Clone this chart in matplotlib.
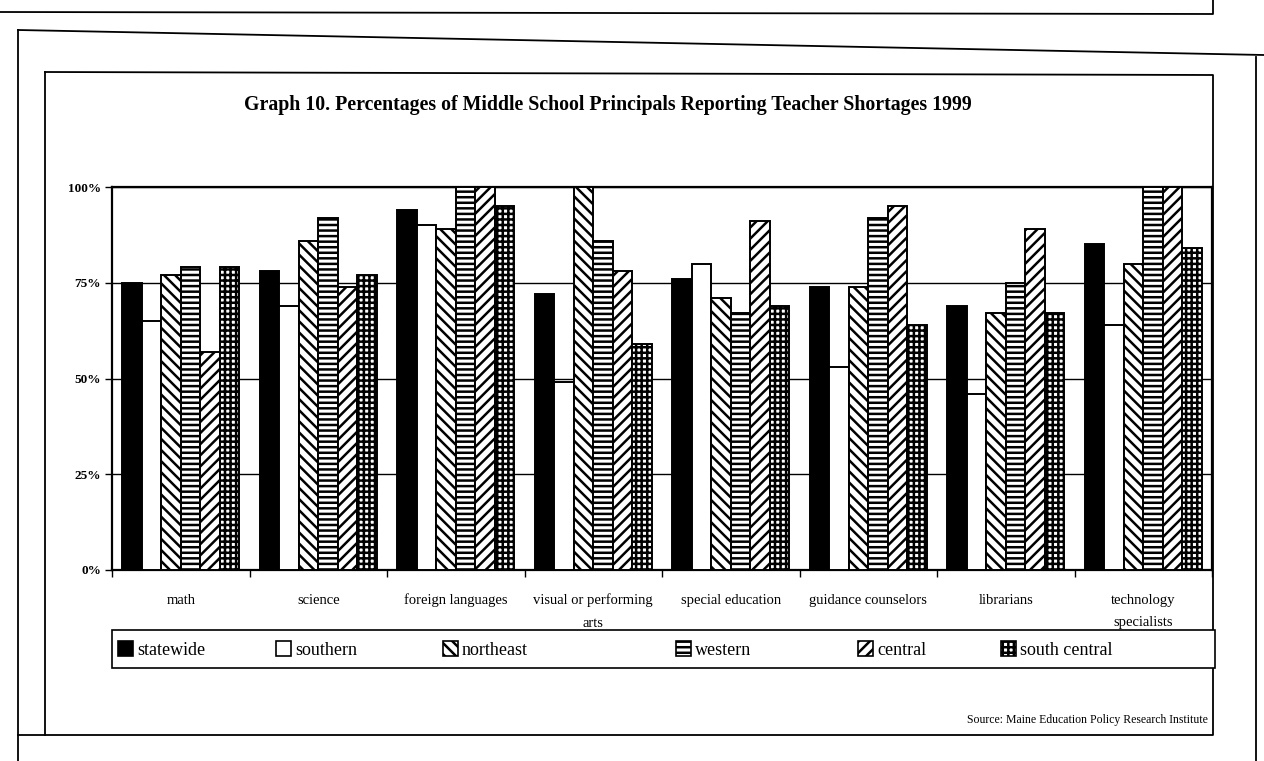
import numpy as np
import matplotlib
matplotlib.use("Agg")
import matplotlib.pyplot as plt
from matplotlib.lines import Line2D
from matplotlib.patches import Patch, Rectangle
from matplotlib.ticker import FixedLocator, PercentFormatter

# values (percent)
categories = ["math", "science", "foreign languages", "visual or performing\narts",
              "special education", "guidance counselors", "librarians",
              "technology\nspecialists"]
regions = ["statewide", "southern", "northeast", "western", "central", "south central"]
statewide = [75, 78, 94, 72, 76, 74, 69, 85]
southern = [65, 69, 90, 49, 80, 53, 46, 64]
northeast = [77, 86, 89, 100, 71, 74, 67, 80]
western = [79, 92, 100, 86, 67, 92, 75, 100]
central = [57, 74, 100, 78, 91, 95, 89, 100]
south_central = [79, 77, 95, 59, 69, 64, 67, 84]
yticks = [0, 25, 50, 75, 100]

series = [statewide, southern, northeast, western, central, south_central]
faces = ["black", "white", "white", "white", "white", "white"]
hatches = [None, None, "\\\\\\", "---", "///", "+++"]

plt.rcParams['font.family'] = ['Liberation Serif', 'DejaVu Serif']
plt.rcParams['hatch.linewidth'] = 1.8
plt.rcParams['hatch.color'] = 'black'

W, H = 1264, 761
fig = plt.figure(figsize=(W / 100, H / 100), dpi=100)


def fx(x):
    return x / W


def fy(y):
    return 1 - y / H


ax = fig.add_axes([fx(112), fy(570), fx(1212) - fx(112), fy(187) - fy(570)])

x = np.arange(len(categories))
bw = 0.142
for i, vals in enumerate(series):
    ax.bar(x + (i - 2.5) * bw, vals, bw, color=faces[i], edgecolor="black",
           linewidth=1.4, hatch=hatches[i], zorder=3)

ax.set_xlim(-0.5, len(categories) - 0.5)
ax.set_ylim(0, 100)
ax.set_yticks(yticks)
ax.yaxis.set_major_formatter(PercentFormatter(decimals=0))
ax.yaxis.grid(True, color="black", linewidth=1.0, zorder=0)
ax.set_axisbelow(True)
for lbl in ax.get_yticklabels():
    lbl.set_fontweight("bold")
ax.tick_params(axis="y", labelsize=9.5, length=5, width=1, direction="out", pad=3)

ax.set_xticks(x)
ax.set_xticklabels(categories, fontsize=10.5, linespacing=1.95)
ax.tick_params(axis="x", which="major", length=0, pad=17)
ax.xaxis.set_minor_locator(FixedLocator(np.arange(-0.5, len(categories), 1.0)))
ax.tick_params(axis="x", which="minor", length=5, width=1, direction="out")
for s in ax.spines.values():
    s.set_linewidth(1.6)
    s.set_color("black")

# legend strip: a boxed band with entries spaced as in the scan
fig.add_artist(Rectangle((fx(112), fy(668)), fx(1215) - fx(112), fy(630) - fy(668),
                         transform=fig.transFigure, facecolor="white",
                         edgecolor="black", linewidth=1.2, zorder=5))
entry_x = [118, 276, 443, 676, 858, 1001]
for i, name in enumerate(regions):
    h = Patch(facecolor=faces[i], edgecolor="black", hatch=hatches[i], linewidth=1.2)
    lg = fig.legend([h], [name], loc="center left",
                    bbox_to_anchor=(fx(entry_x[i]), fy(650)),
                    frameon=False, fontsize=13, handlelength=0.85,
                    handleheight=0.85, handletextpad=0.2, borderaxespad=0,
                    borderpad=0)
    lg.set_zorder(6)

fig.text(fx(608), fy(105), "Graph 10. Percentages of Middle School Principals Reporting Teacher Shortages 1999",
         ha="center", va="center", fontsize=14.3, fontweight="bold")
fig.text(fx(1208), fy(720), "Source: Maine Education Policy Research Institute",
         ha="right", va="center", fontsize=8.5)

# scanned page frames
frame = dict(color="black", linewidth=1.3, transform=fig.transFigure)
fig.add_artist(Line2D([fx(0), fx(1213), fx(1213)], [fy(12), fy(14), fy(0)], **frame))
fig.add_artist(Line2D([fx(18), fx(18)], [fy(761), fy(30)], **frame))
fig.add_artist(Line2D([fx(18), fx(1264)], [fy(30), fy(55)], **frame))
fig.add_artist(Line2D([fx(1256), fx(1256)], [fy(57), fy(761)], **frame))
fig.add_artist(Line2D([fx(45), fx(1213), fx(1213), fx(18)],
                      [fy(72), fy(75), fy(735), fy(735)], **frame))
fig.add_artist(Line2D([fx(45), fx(45)], [fy(72), fy(735)], **frame))

fig.savefig("out.png", dpi=100)
